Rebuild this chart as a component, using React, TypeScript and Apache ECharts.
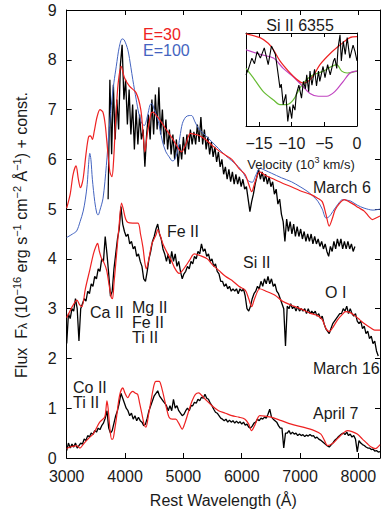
import React, { useEffect, useRef } from 'react';
import * as echarts from 'echarts';

// ---------- data ----------
const WL_STEP = 30;

// March 6 observed spectrum (start wavelength, then flux every WL_STEP Å)
const march6Start = 3710;
const march6Obs = [
  5.2, 7.6, 6.1, 7.5, 6.4, 7.2, 6.6, 7.9, 8.3, 7.2, 7.6, 6.7, 7.4, 6.5, 7.1, 6.2, 7.0, 6.3, 6.9, 6.4,
  6.6, 5.85, 6.5, 6.9, 6.4, 7.2, 6.5, 7.3, 6.6, 7.45, 6.5, 7.0, 6.3, 6.8, 6.2, 6.6, 6.1, 6.5, 6.0, 6.4,
  5.85, 6.3, 6.0, 6.45, 6.1, 6.5, 6.2, 6.6, 6.3, 6.55, 6.3, 6.7, 6.35, 6.85, 6.3, 6.6, 6.2, 6.45, 6.1, 6.35,
  6.05, 6.25, 5.95, 6.15, 5.85, 6.0, 5.7, 5.85, 5.6, 5.8, 5.55, 5.75, 5.5, 5.7, 5.5, 5.65, 5.45, 5.6, 5.4, 5.45,
  5.2, 4.95, 5.15, 5.3, 5.5, 5.65, 5.8, 5.6, 5.75, 5.55, 5.7, 5.5, 5.65, 5.45, 5.55, 5.3, 5.4, 5.1, 5.2, 4.9,
  4.75, 4.35, 4.8, 4.55, 4.75, 4.5, 4.7, 4.45, 4.65, 4.45, 4.6, 4.4, 4.55, 4.35, 4.5, 4.35, 4.5, 4.3, 4.45, 4.3,
  4.4, 4.25, 4.35, 4.2, 4.3, 4.15, 4.05, 4.25, 4.15, 4.35, 4.2, 4.4, 4.25, 4.4, 4.2, 4.35, 4.2, 4.35, 4.2, 4.3,
  4.15, 4.25,
];

// March 16 observed spectrum
const march16Start = 3000;
const march16Obs = [
  2.3, 2.9, 2.8, 3.0, 2.95, 3.2, 3.0, 2.35, 3.0, 3.1, 3.2, 3.15, 3.35, 3.3, 3.5, 3.45, 3.65, 3.6, 3.8, 3.75,
  4.0, 3.95, 4.45, 4.1, 3.7, 3.25, 3.35, 3.8, 4.1, 4.4, 4.6, 5.05, 4.7, 4.55, 4.45, 4.5, 4.3, 4.35, 4.2, 4.25,
  4.05, 4.1, 3.95, 3.85, 3.6, 3.55, 3.75, 4.0, 4.15, 4.35, 4.45, 4.6, 4.7, 4.5, 4.4, 4.2, 4.1, 3.95, 4.1, 3.9,
  4.15, 3.95, 4.1, 3.85, 3.95, 3.75, 3.6, 3.7, 3.75, 3.85, 3.8, 3.95, 3.9, 4.05, 4.0, 4.15, 4.1, 4.3, 4.15, 4.2,
  4.05, 4.1, 3.95, 4.0, 3.85, 3.9, 3.75, 3.7, 3.55, 3.55, 3.45, 3.5, 3.4, 3.45, 3.35, 3.4, 3.35, 3.4, 3.3, 3.4,
  3.35, 3.4, 3.25, 3.0, 2.95, 3.05, 3.2, 3.3, 3.35, 3.45, 3.4, 3.55, 3.45, 3.6, 3.5, 3.65, 3.5, 3.6, 3.45, 3.5,
  3.35, 3.3, 3.2, 3.1, 3.0, 2.25, 3.05, 3.0, 3.1, 3.0, 3.05, 2.95, 3.05, 2.95, 3.0, 2.95, 3.0, 2.9, 3.0, 2.9,
  2.95, 2.9, 2.95, 2.85, 2.9, 2.8, 2.85, 2.7, 2.6, 2.55, 2.5, 2.6, 2.7, 2.75, 2.8, 2.85, 2.9, 2.9, 3.0, 2.95,
  3.05, 2.9, 3.0, 2.9, 2.85, 2.9, 2.75, 2.7, 2.75, 2.6, 2.65, 2.5, 2.55, 2.4, 2.45, 2.3, 2.35, 2.15, 2.05,
];

// April 7 observed spectrum
const april7Start = 3000;
const april7Obs = [
  0.15, 0.3, 0.2, 0.28, 0.22, 0.3, 0.2, 0.25, 0.3, 0.28, 0.38, 0.35, 0.45, 0.42, 0.5, 0.47, 0.55, 0.52, 0.6, 0.57,
  0.65, 0.7, 0.8, 0.95, 0.6, 0.5, 0.55, 0.7, 0.85, 0.95, 1.1, 1.3, 1.2, 1.1, 1.0, 0.95, 0.85, 0.9, 0.78, 0.85,
  0.75, 0.82, 0.75, 0.72, 0.65, 0.68, 0.8, 0.95, 1.05, 1.15, 1.25, 1.3, 1.35, 1.25, 1.2, 1.15, 1.1, 1.05, 0.95, 1.05,
  0.95, 1.18, 1.0, 1.05, 0.95, 0.9, 0.85, 0.88, 0.95, 1.0, 0.95, 1.05, 1.05, 1.12, 1.1, 1.18, 1.15, 1.22, 1.2, 1.28,
  1.2, 1.18, 1.1, 1.05, 0.98, 0.92, 0.9, 0.85, 0.8, 0.78, 0.75, 0.78, 0.72, 0.76, 0.72, 0.75, 0.7, 0.74, 0.7, 0.73,
  0.68, 0.72, 0.66, 0.68, 0.62, 0.6, 0.64, 0.7, 0.72, 0.78, 0.75, 0.8, 0.78, 0.82, 0.8, 0.88, 0.98, 0.82, 0.78, 0.75,
  0.72, 0.65, 0.6, 0.6, 0.2, 0.5, 0.5, 0.55, 0.48, 0.52, 0.48, 0.5, 0.45, 0.48, 0.45, 0.47, 0.43, 0.46, 0.44, 0.47,
  0.44, 0.45, 0.4, 0.42, 0.38, 0.36, 0.33, 0.3, 0.27, 0.24, 0.22, 0.26, 0.3, 0.35, 0.38, 0.42, 0.45, 0.48, 0.5, 0.47,
  0.52, 0.45, 0.48, 0.42, 0.45, 0.38, 0.12, 0.35, 0.3, 0.27, 0.25, 0.22, 0.2, 0.2, 0.17, 0.18, 0.14, 0.15, 0.12, 0.13,
];

// Model spectra [wavelength, flux]
const march6ModelE30 = [
  [3000, 5.02], [3060, 5.3], [3110, 5.7], [3160, 5.87], [3200, 5.6], [3235, 5.43], [3280, 5.6], [3330, 6.1],
  [3375, 6.45], [3410, 6.47], [3440, 6.4], [3470, 6.55], [3520, 6.85], [3570, 7.0], [3620, 6.95], [3660, 6.7],
  [3700, 6.2], [3740, 5.75], [3775, 5.65], [3800, 5.9], [3840, 6.8], [3880, 7.5], [3933, 7.87], [3990, 7.64],
  [4075, 7.47], [4188, 7.34], [4270, 7.0], [4310, 6.5], [4340, 6.15], [4380, 6.5], [4440, 6.9], [4470, 6.95],
  [4585, 6.81], [4700, 6.61], [4810, 6.42], [4925, 6.2], [4970, 6.15], [5040, 6.3], [5120, 6.52], [5200, 6.5],
  [5270, 6.48], [5380, 6.4], [5490, 6.28], [5600, 6.18], [5700, 6.1], [5830, 6.0], [5950, 5.82], [6060, 5.69],
  [6120, 5.5], [6170, 5.35], [6230, 5.55], [6310, 5.75], [6400, 5.68], [6570, 5.59], [6700, 5.52], [6850, 5.45],
  [7000, 5.37], [7190, 5.29], [7300, 5.22], [7380, 5.15], [7445, 4.89], [7500, 4.66], [7550, 4.8], [7600, 4.98],
  [7680, 5.12], [7760, 5.19], [7850, 5.14], [7925, 5.09], [8000, 5.03], [8100, 4.96], [8180, 4.85], [8240, 4.79],
  [8300, 4.82], [8370, 4.86],
];
const march6ModelE100 = [
  [3000, 4.43], [3100, 4.5], [3170, 4.56], [3230, 4.75], [3283, 4.96], [3320, 5.2], [3351, 5.49], [3375, 5.9],
  [3396, 6.12], [3415, 6.0], [3440, 5.6], [3481, 5.15], [3515, 4.92], [3538, 4.88], [3570, 4.98], [3623, 5.22],
  [3680, 5.88], [3720, 6.5], [3764, 7.08], [3810, 7.55], [3850, 7.87], [3900, 8.25], [3950, 8.42], [3985, 8.4],
  [4048, 8.2], [4100, 7.85], [4133, 7.6], [4190, 7.21], [4240, 6.9], [4290, 6.72], [4331, 6.68], [4380, 6.85],
  [4430, 7.1], [4460, 7.12], [4500, 7.0], [4550, 6.85], [4600, 6.6], [4643, 6.35], [4700, 6.15], [4756, 6.05],
  [4810, 5.97], [4840, 5.98], [4898, 6.15], [4940, 6.45], [4983, 6.72], [5040, 6.85], [5100, 6.88], [5140, 6.88],
  [5200, 6.75], [5265, 6.61], [5380, 6.48], [5490, 6.35], [5600, 6.22], [5719, 6.08], [5830, 5.97], [5945, 5.85],
  [6030, 5.72], [6087, 5.6], [6140, 5.55], [6183, 5.54], [6240, 5.68], [6313, 5.82], [6400, 5.78], [6512, 5.72],
  [6680, 5.63], [6851, 5.55], [7000, 5.45], [7134, 5.35], [7230, 5.25], [7304, 5.16], [7380, 5.0], [7445, 4.82],
  [7500, 4.85], [7560, 4.95], [7650, 5.1], [7728, 5.19], [7800, 5.18], [7870, 5.16], [7980, 5.08], [8097, 5.02],
  [8250, 4.98], [8370, 5.0],
];
const march16Model = [
  [3000, 2.82], [3034, 2.9], [3100, 3.05], [3175, 3.17], [3220, 3.08], [3260, 3.04], [3320, 3.4], [3400, 3.8],
  [3458, 4.1], [3500, 4.25], [3530, 4.31], [3560, 4.15], [3600, 4.0], [3640, 3.92], [3685, 3.77], [3730, 3.45],
  [3765, 3.22], [3785, 3.2], [3810, 3.5], [3855, 4.1], [3900, 4.7], [3940, 5.12], [3970, 5.0], [4010, 4.8],
  [4052, 4.73], [4130, 4.72], [4222, 4.72], [4265, 4.5], [4307, 4.23], [4340, 3.92], [4363, 3.8], [4400, 3.95],
  [4460, 4.3], [4533, 4.49], [4560, 4.59], [4600, 4.48], [4650, 4.3], [4732, 4.1], [4800, 3.95], [4845, 3.83],
  [4900, 3.73], [4930, 3.71], [4980, 3.76], [5042, 3.86], [5110, 3.98], [5185, 4.1], [5300, 4.06], [5410, 4.0],
  [5500, 3.88], [5607, 3.77], [5720, 3.65], [5830, 3.57], [5950, 3.45], [6060, 3.37], [6120, 3.2], [6170, 3.04],
  [6220, 3.2], [6310, 3.4], [6400, 3.36], [6570, 3.27], [6700, 3.15], [6850, 3.07], [7000, 3.0], [7190, 2.9],
  [7300, 2.86], [7380, 2.78], [7445, 2.6], [7500, 2.54], [7560, 2.62], [7640, 2.77], [7720, 2.88], [7780, 2.94],
  [7860, 2.92], [7925, 2.87], [8020, 2.78], [8100, 2.7], [8200, 2.62], [8280, 2.57], [8370, 2.57],
];
const april7Model = [
  [3000, 0.19], [3060, 0.22], [3120, 0.24], [3170, 0.25], [3226, 0.2], [3300, 0.3], [3380, 0.4], [3452, 0.48],
  [3510, 0.6], [3566, 0.72], [3650, 0.82], [3670, 0.95], [3690, 1.15], [3710, 1.0], [3740, 0.6], [3770, 0.38],
  [3790, 0.38], [3820, 0.55], [3850, 0.78], [3905, 1.25], [3962, 1.41], [4000, 1.3], [4046, 1.21], [4090, 1.3],
  [4131, 1.34], [4180, 1.3], [4216, 1.28], [4250, 1.1], [4290, 0.88], [4330, 0.66], [4358, 0.62], [4400, 0.85],
  [4460, 1.25], [4500, 1.48], [4528, 1.54], [4585, 1.54], [4620, 1.45], [4669, 1.21], [4710, 1.0], [4754, 0.82],
  [4810, 0.78], [4868, 0.78], [4920, 0.7], [4980, 0.58], [5020, 0.68], [5093, 0.95], [5150, 1.15], [5206, 1.28],
  [5263, 1.31], [5320, 1.25], [5376, 1.18], [5490, 1.05], [5603, 0.95], [5720, 0.9], [5829, 0.85], [5950, 0.82],
  [6056, 0.78], [6120, 0.68], [6168, 0.55], [6220, 0.65], [6310, 0.85], [6400, 0.84], [6508, 0.82], [6680, 0.75],
  [6848, 0.68], [7050, 0.62], [7244, 0.55], [7357, 0.48], [7420, 0.35], [7470, 0.25], [7557, 0.29], [7650, 0.4],
  [7740, 0.5], [7810, 0.55], [7890, 0.53], [7980, 0.48], [8070, 0.38], [8150, 0.29], [8220, 0.22], [8290, 0.19],
  [8370, 0.27],
];

// Inset: Si II 6355 line profile vs velocity (10^3 km/s)
const insetObs = [
  [-17, 0.55], [-16.6, 0.62], [-16.1, 0.73], [-15.7, 0.67], [-15.3, 0.8], [-14.8, 0.73], [-14.2, 0.84], [-13.6, 0.66],
  [-13.1, 0.86], [-12.5, 0.77], [-12.2, 0.62], [-11.8, 0.41], [-11.6, 0.45], [-11.3, 0.23], [-10.9, 0.34], [-10.6, 0.05],
  [-10.3, 0.21], [-10.0, 0.08], [-9.8, 0.23], [-9.5, 0.17], [-9.3, 0.34], [-8.9, 0.44], [-8.5, 0.3], [-8.2, 0.48],
  [-7.9, 0.4], [-7.7, 0.55], [-7.4, 0.37], [-7.2, 0.59], [-6.9, 0.44], [-6.5, 0.61], [-6.2, 0.43], [-5.9, 0.59],
  [-5.7, 0.48], [-5.2, 0.64], [-4.9, 0.52], [-4.5, 0.66], [-4.1, 0.55], [-3.6, 0.7], [-3.4, 0.73], [-3.1, 0.62],
  [-2.9, 0.84], [-2.6, 0.98], [-2.4, 0.7], [-2.1, 0.91], [-1.8, 0.77], [-1.5, 0.95], [-1.1, 0.73], [-0.6, 0.87],
  [-0.3, 0.8], [0, 0.7],
];
const insetRed = [
  [-17, 0.99], [-14.86, 0.95], [-13.6, 0.89], [-12.8, 0.82], [-11.8, 0.7], [-10.5, 0.59], [-9.2, 0.5], [-8.2, 0.46],
  [-6.9, 0.52], [-5.67, 0.66], [-4.1, 0.78], [-2.6, 0.87], [-1.07, 0.95], [0, 0.96],
];
const insetMagenta = [
  [-17, 0.82], [-14.86, 0.77], [-12.8, 0.73], [-11.3, 0.62], [-9.76, 0.53], [-8.5, 0.44], [-7.2, 0.35], [-5.93, 0.32],
  [-4.64, 0.32], [-3.4, 0.37], [-2.1, 0.48], [-1.07, 0.57], [0, 0.59],
];
const insetGreen = [
  [-17, 0.62], [-15.9, 0.52], [-14.35, 0.37], [-12.8, 0.28], [-11.8, 0.23], [-10.76, 0.23], [-9.76, 0.28], [-8.73, 0.41],
  [-7.7, 0.5], [-6.7, 0.55], [-5.16, 0.59], [-3.9, 0.64], [-3.1, 0.66], [-2.34, 0.59], [-1.5, 0.57], [0, 0.59],
];

const xTicksMain = [3000, 4000, 5000, 6000, 7000, 8000];
const insetTicks = [-15, -10, -5, 0];

// ---------- styling ----------
const FONT = '"Liberation Sans", Arial, Helvetica, sans-serif';
const TXT = '#1a1a1a';
const RED = '#ee2222';
const BLUE = '#4464c0';
const GREEN = '#66bb33';
const MAGENTA = '#c043c0';

function toPairs(start: number, vals: number[]) {
  return vals.map((v, i) => [start + i * WL_STEP, v]);
}

function lineSeries(data: any[], color: string, width: number, xi: number, yi: number, smooth: number | boolean, z = 2) {
  return {
    type: 'line',
    data,
    xAxisIndex: xi,
    yAxisIndex: yi,
    symbol: 'none',
    smooth,
    silent: true,
    z,
    lineStyle: { color, width },
  };
}

function label(text: string, x: number, y: number, fill = TXT, size = 16) {
  return {
    type: 'text',
    x,
    y,
    z: 10,
    style: { text, fill, fontSize: size, fontFamily: FONT, align: 'left', verticalAlign: 'middle' },
  };
}

export default function App() {
  const ref = useRef<HTMLDivElement>(null);
  useEffect(() => {
    document.body.style.margin = '0';
    const chart = echarts.init(ref.current as HTMLDivElement, null, { renderer: 'svg' });
    const axisLine = { show: true, onZero: false, lineStyle: { color: '#000', width: 1 } };
    const tickIn = { show: true, inside: true, length: 5, lineStyle: { color: '#000', width: 1 } };
    chart.setOption({
      animation: false,
      backgroundColor: '#fff',
      textStyle: { fontFamily: FONT },
      grid: [
        { left: 66.7, top: 10, right: 0, bottom: 50.3, containLabel: false },
        { left: 246, top: 33, width: 111, height: 93, containLabel: false },
      ],
      xAxis: [
        {
          gridIndex: 0, type: 'value', position: 'bottom', min: 3000, max: 8370, interval: 1000,
          axisLine, axisTick: tickIn, splitLine: { show: false },
          axisLabel: {
            color: TXT, fontSize: 16, fontFamily: FONT, margin: 10,
            formatter: (v: number) => (xTicksMain.indexOf(v) >= 0 ? String(v) : ''),
          },
          name: 'Rest Wavelength (Å)', nameLocation: 'middle', nameGap: 34,
          nameTextStyle: { color: TXT, fontSize: 16, fontFamily: FONT },
        },
        {
          gridIndex: 0, type: 'value', position: 'top', min: 3000, max: 8370, interval: 1000,
          axisLine, axisTick: tickIn, splitLine: { show: false }, axisLabel: { show: false },
        },
        {
          gridIndex: 1, type: 'value', position: 'bottom', min: -17, max: 0,
          axisLine, splitLine: { show: false },
          axisTick: { ...tickIn, length: 4, customValues: insetTicks },
          axisLabel: {
            color: TXT, fontSize: 16, fontFamily: FONT, margin: 9, customValues: insetTicks,
            formatter: (v: number) => (v < 0 ? '\u2212' + Math.abs(v) : String(v)),
          },
        },
        {
          gridIndex: 1, type: 'value', position: 'top', min: -17, max: 0,
          axisLine, splitLine: { show: false },
          axisTick: { ...tickIn, length: 4, customValues: insetTicks }, axisLabel: { show: false },
        },
      ],
      yAxis: [
        {
          gridIndex: 0, type: 'value', position: 'left', min: 0, max: 9, interval: 1,
          axisLine, axisTick: tickIn, splitLine: { show: false },
          axisLabel: { color: TXT, fontSize: 16, fontFamily: FONT, margin: 10 },
        },
        {
          gridIndex: 0, type: 'value', position: 'right', min: 0, max: 9, interval: 1,
          axisLine, axisTick: tickIn, splitLine: { show: false }, axisLabel: { show: false },
        },
        {
          gridIndex: 1, type: 'value', position: 'left', min: 0, max: 1,
          axisLine, axisTick: { show: false }, splitLine: { show: false }, axisLabel: { show: false },
        },
        {
          gridIndex: 1, type: 'value', position: 'right', min: 0, max: 1,
          axisLine, axisTick: { show: false }, splitLine: { show: false }, axisLabel: { show: false },
        },
      ],
      series: [
        lineSeries(toPairs(march6Start, march6Obs), '#000', 1.3, 0, 0, false),
        lineSeries(toPairs(march16Start, march16Obs), '#000', 1.3, 0, 0, false),
        lineSeries(toPairs(april7Start, april7Obs), '#000', 1.3, 0, 0, false),
        lineSeries(march6ModelE100, BLUE, 1, 0, 0, 0.3, 3),
        lineSeries(march6ModelE30, RED, 1.2, 0, 0, 0.3, 4),
        lineSeries(march16Model, RED, 1.2, 0, 0, 0.3, 4),
        lineSeries(april7Model, RED, 1.2, 0, 0, 0.3, 4),
        lineSeries(insetGreen, GREEN, 1.2, 2, 2, 0.3, 3),
        lineSeries(insetMagenta, MAGENTA, 1.2, 2, 2, 0.3, 3),
        lineSeries(insetRed, RED, 1.2, 2, 2, 0.3, 4),
        lineSeries(insetObs, '#000', 1.1, 2, 2, false, 5),
      ],
      graphic: [
        {
          type: 'text', x: 20, y: 235, rotation: Math.PI / 2, z: 10,
          style: {
            text: '{n|Flux  F}{sub|\u03bb}{n| (10}{sup|\u221216}{n| erg s}{sup|\u22121}{n| cm}{sup|\u22122}{n| \u00c5}{sup|\u22121}{n|) + const.}',
            align: 'center', verticalAlign: 'middle', fill: TXT, fontFamily: FONT, fontSize: 16,
            rich: {
              n: { fontSize: 16, fontFamily: FONT, fill: TXT, lineHeight: 18, padding: [6, 0, 0, 0], verticalAlign: 'bottom' },
              sup: { fontSize: 11, fontFamily: FONT, fill: TXT, lineHeight: 12, verticalAlign: 'top' },
              sub: { fontSize: 12, fontFamily: FONT, fill: TXT, lineHeight: 9, verticalAlign: 'bottom' },
            },
          },
        },
        {
          type: 'text', x: 301, y: 163, z: 10,
          style: {
            text: '{n|Velocity (10}{sup|3}{n| km/s)}',
            align: 'center', verticalAlign: 'middle', fill: TXT, fontFamily: FONT, fontSize: 13,
            rich: {
              n: { fontSize: 13, fontFamily: FONT, fill: TXT, lineHeight: 15, padding: [5, 0, 0, 0], verticalAlign: 'bottom' },
              sup: { fontSize: 9, fontFamily: FONT, fill: TXT, lineHeight: 10, verticalAlign: 'top' },
            },
          },
        },
        {
          type: 'text', x: 300, y: 25, z: 10,
          style: { text: 'Si II 6355', fill: TXT, fontSize: 16, fontFamily: FONT, align: 'center', verticalAlign: 'middle' },
        },
        label('E=30', 143, 34, RED),
        label('E=100', 143, 50, BLUE),
        label('March 6', 313, 187),
        label('Fe II', 167, 231),
        label('Si II', 243, 262),
        label('O I', 325, 292),
        label('Ca II', 90, 312),
        label('Mg II', 132, 307),
        label('Fe II', 132, 322),
        label('Ti II', 132, 337),
        label('March 16', 313, 368),
        label('Co II', 73, 387),
        label('Ti II', 73, 402),
        label('April 7', 313, 413),
      ],
    });
    return () => chart.dispose();
  }, []);
  return <div ref={ref} style={{ position: 'absolute', left: 0, top: 0, width: 383, height: 513 }} />;
}
